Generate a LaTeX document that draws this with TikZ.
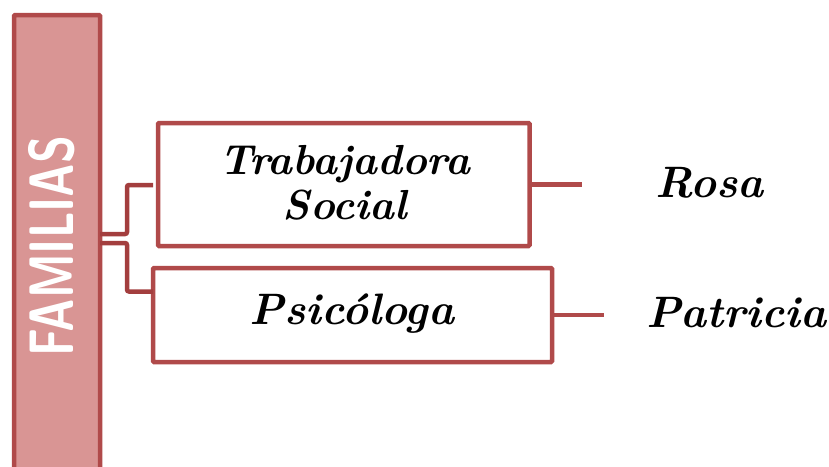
\documentclass[tikz,border=0pt]{standalone}
\usepackage{fontspec}
\definecolor{fillpink}{HTML}{D99594}
\definecolor{edge}{HTML}{B04A4A}
\definecolor{edgedark}{HTML}{A33E3E}
\begin{document}
\begin{tikzpicture}[x=1pt,y=-1pt,
  boxstyle/.style={draw=edge, line width=4.5pt, rounded corners=1pt, fill=white, inner sep=0pt, outer sep=0pt},
  linkstyle/.style={draw=edge, line width=4.5pt},
  brstyle/.style={draw=edgedark, line width=4.5pt, rounded corners=2pt},
  scripttext/.style={font=\fontsize{42}{45}\selectfont\bfseries\itshape, text=black, inner sep=0pt, align=center},
  nametext/.style={font=\fontsize{44}{50}\selectfont\bfseries\itshape, text=black, inner sep=0pt}]
\useasboundingbox (0,0) rectangle (829,466);
\clip (0,0) rectangle (829,466);
% left tall bar
\node[draw=edge, fill=fillpink, line width=4.5pt, rounded corners=1pt, minimum width=86pt, minimum height=470pt, anchor=north west, inner sep=0pt, outer sep=0pt] (fam) at (14,15) {};
\node[rotate=90, text=white, inner sep=0pt, font=\sffamily\bfseries] (famtxt) at (52,246) {\resizebox{220pt}{45pt}{FAMILIAS}};
% boxes
\node[boxstyle, minimum width=371.5pt, minimum height=123pt, anchor=north west] (b1) at (158,123) {};
\node[boxstyle, minimum width=399pt, minimum height=94pt, anchor=north west] (b2) at (153,268) {};
\node[scripttext] (t1) at (345,183) {Trabajadora\\Social};
\node[scripttext, font=\fontsize{44}{48}\selectfont\bfseries\itshape] (t2) at (352,314) {Psicóloga};
% bracket
\coordinate (ba) at (100,234);
\coordinate (bb) at (100,243);
\draw[brstyle] (ba) -- (127,234) -- (127,185) -- ([xshift=-5pt]b1.west |- 0,185);
\draw[brstyle] (bb) -- (127,243) -- (127,291.5) -- (b2.west |- 0,291.5);
% right links
\coordinate (r1) at (582,184.5);
\coordinate (r2) at (604,315);
\draw[linkstyle] (b1.east |- r1) -- (r1);
\draw[linkstyle] (b2.east |- r2) -- (r2);
\node[nametext, anchor=west] (rosa) at (655,183) {Rosa};
\node[nametext, anchor=west] (patricia) at (646,313) {Patricia};
\end{tikzpicture}
\end{document}
